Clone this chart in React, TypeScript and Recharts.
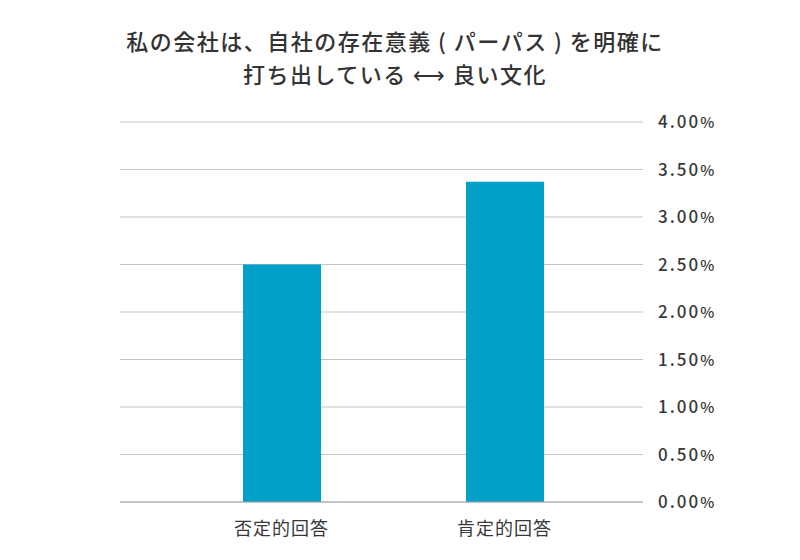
import React from "react";
import { BarChart, Bar, XAxis, YAxis, CartesianGrid } from "recharts";

const categories = ["否定的回答", "肯定的回答"];
const values = [2.5, 3.37];
const yTicks = [0, 0.5, 1, 1.5, 2, 2.5, 3, 3.5, 4];
const titleLines = [
  "私の会社は、自社の存在意義 ( パーパス ) を明確に",
  "打ち出している ⟷ 良い文化",
];

const data = categories.map((name, i) => ({ name, value: values[i] }));

const FONT = '"Noto Sans CJK JP", "Noto Sans", sans-serif';

const PercentTick = (props: any) => {
  const { x, y, payload } = props;
  return (
    <text
      x={x}
      y={y}
      dy="0.36em"
      textAnchor="start"
      fill="#383838"
      fontFamily={FONT}
      fontSize={17}
      fontWeight={500}
      letterSpacing={2}
    >
      {payload.value.toFixed(2)}
      <tspan fontSize={15}>%</tspan>
    </text>
  );
};

export default function App() {
  return (
    <div
      style={{
        position: "fixed",
        left: 0,
        top: 0,
        width: 800,
        height: 560,
        background: "#fff",
      }}
    >
      {/* Title */}
      <div
        style={{
          position: "absolute",
          left: 0,
          top: 24,
          width: 790,
          textAlign: "center",
          fontFamily: FONT,
          fontSize: 22,
          fontWeight: 500,
          color: "#333",
          lineHeight: "33px",
          letterSpacing: 1.5,
        }}
      >
        {titleLines.map((l) => (
          <div key={l}>{l}</div>
        ))}
      </div>
      <BarChart
        width={800}
        height={560}
        data={data}
        margin={{ top: 122, right: 80, bottom: 12, left: 120 }}
        barSize={78}
      >
        <CartesianGrid vertical={false} stroke="#c4c4c4" strokeWidth={1} />
        <XAxis
          dataKey="name"
          padding={{ left: 50, right: 27 }}
          axisLine={{ stroke: "#a8a8a8" }}
          tickLine={false}
          tickMargin={14}
          height={46}
          tick={{ fill: "#383838", fontSize: 18, fontFamily: FONT, letterSpacing: 1 }}
        />
        <YAxis
          orientation="right"
          width={77}
          domain={[0, 4]}
          ticks={yTicks}
          axisLine={false}
          tickLine={false}
          tickMargin={9}
          tick={<PercentTick />}
        />
        <Bar dataKey="value" fill="#00A0C8" isAnimationActive={false} />
      </BarChart>
    </div>
  );
}
